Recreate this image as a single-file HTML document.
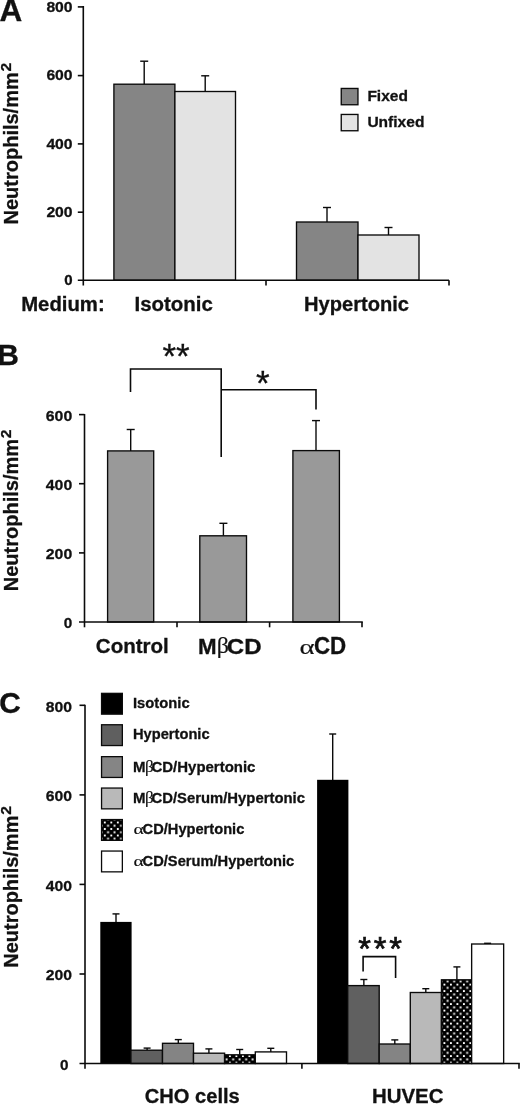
<!DOCTYPE html>
<html><head><meta charset="utf-8"><title>Figure</title>
<style>
html,body{margin:0;padding:0;background:#fff;}
svg{display:block;}
text{font-family:"Liberation Sans",Arial,Helvetica,sans-serif;font-weight:bold;fill:#111;stroke:#111;stroke-width:0.3px;}
.sy{font-family:"Liberation Serif","DejaVu Serif",serif;font-weight:normal;stroke-width:0.15px;}
.rg{font-weight:normal;stroke-width:0.3px;}
</style></head><body>
<svg width="520" height="1105" viewBox="0 0 520 1105">
<defs>
<pattern id="dots" x="444.4" y="984.6" width="6.5" height="6.5" patternUnits="userSpaceOnUse">
<rect x="-1" y="-1" width="9" height="9" fill="#000"/>
<g fill="#fff"><rect x="-0.95" y="-0.95" width="1.9" height="1.9"/><rect x="5.55" y="-0.95" width="1.9" height="1.9"/><rect x="-0.95" y="5.55" width="1.9" height="1.9"/><rect x="5.55" y="5.55" width="1.9" height="1.9"/><rect x="2.3" y="2.3" width="1.9" height="1.9"/></g>
</pattern>
<pattern id="dots2" x="104.8" y="822.5" width="6.5" height="6.5" patternUnits="userSpaceOnUse">
<rect x="-1" y="-1" width="9" height="9" fill="#000"/>
<g fill="#fff"><rect x="-0.95" y="-0.95" width="1.9" height="1.9"/><rect x="5.55" y="-0.95" width="1.9" height="1.9"/><rect x="-0.95" y="5.55" width="1.9" height="1.9"/><rect x="5.55" y="5.55" width="1.9" height="1.9"/><rect x="2.3" y="2.3" width="1.9" height="1.9"/></g>
</pattern>
</defs>
<rect width="520" height="1105" fill="#fff"/>
<text x="-0.4" y="20.8" font-size="31.5" text-anchor="start" stroke-width="0.3">A</text>
<line x1="144.2" y1="61.2" x2="144.2" y2="84.2" stroke="#0a0a0a" stroke-width="1.4"/>
<line x1="140.2" y1="61.2" x2="148.2" y2="61.2" stroke="#0a0a0a" stroke-width="1.4"/>
<rect x="113.90" y="84.20" width="61.00" height="196.00" fill="#858585" stroke="#0a0a0a" stroke-width="1.35"/>
<line x1="205.2" y1="75.8" x2="205.2" y2="91.5" stroke="#0a0a0a" stroke-width="1.4"/>
<line x1="201.2" y1="75.8" x2="209.2" y2="75.8" stroke="#0a0a0a" stroke-width="1.4"/>
<rect x="174.90" y="91.50" width="60.60" height="188.70" fill="#e3e3e3" stroke="#0a0a0a" stroke-width="1.35"/>
<line x1="327" y1="207.5" x2="327" y2="222" stroke="#0a0a0a" stroke-width="1.4"/>
<line x1="323.0" y1="207.5" x2="331.0" y2="207.5" stroke="#0a0a0a" stroke-width="1.4"/>
<rect x="296.50" y="222.00" width="61.50" height="58.20" fill="#858585" stroke="#0a0a0a" stroke-width="1.35"/>
<line x1="388.5" y1="227.5" x2="388.5" y2="235" stroke="#0a0a0a" stroke-width="1.4"/>
<line x1="384.5" y1="227.5" x2="392.5" y2="227.5" stroke="#0a0a0a" stroke-width="1.4"/>
<rect x="358.00" y="235.00" width="61.00" height="45.20" fill="#e3e3e3" stroke="#0a0a0a" stroke-width="1.35"/>
<line x1="83.3" y1="6.1000000000000005" x2="83.3" y2="285.5" stroke="#0a0a0a" stroke-width="1.6"/>
<line x1="77.8" y1="280.2" x2="449" y2="280.2" stroke="#0a0a0a" stroke-width="1.6"/>
<line x1="77.8" y1="6.9" x2="83.3" y2="6.9" stroke="#0a0a0a" stroke-width="1.6"/>
<line x1="77.8" y1="75.6" x2="83.3" y2="75.6" stroke="#0a0a0a" stroke-width="1.6"/>
<line x1="77.8" y1="143.9" x2="83.3" y2="143.9" stroke="#0a0a0a" stroke-width="1.6"/>
<line x1="77.8" y1="212.2" x2="83.3" y2="212.2" stroke="#0a0a0a" stroke-width="1.6"/>
<line x1="266" y1="280.2" x2="266" y2="285.5" stroke="#0a0a0a" stroke-width="1.6"/>
<line x1="449" y1="280.2" x2="449" y2="285.5" stroke="#0a0a0a" stroke-width="1.6"/>
<text x="72.6" y="11.9" font-size="15" text-anchor="end" stroke-width="0" textLength="26.2" lengthAdjust="spacingAndGlyphs">800</text>
<text x="72.6" y="80.30000000000001" font-size="15" text-anchor="end" stroke-width="0" textLength="26.2" lengthAdjust="spacingAndGlyphs">600</text>
<text x="72.6" y="148.70000000000002" font-size="15" text-anchor="end" stroke-width="0" textLength="26.2" lengthAdjust="spacingAndGlyphs">400</text>
<text x="72.6" y="217.0" font-size="15" text-anchor="end" stroke-width="0" textLength="26.2" lengthAdjust="spacingAndGlyphs">200</text>
<text x="72.6" y="285.4" font-size="15" text-anchor="end" stroke-width="0">0</text>
<rect x="341.25" y="88.45" width="16.70" height="16.30" fill="#858585" stroke="#0a0a0a" stroke-width="1.35"/>
<rect x="341.25" y="114.45" width="16.70" height="16.30" fill="#e3e3e3" stroke="#0a0a0a" stroke-width="1.35"/>
<text x="367.4" y="101.2" font-size="15" text-anchor="start" stroke-width="0" textLength="40.5" lengthAdjust="spacingAndGlyphs">Fixed</text>
<text x="367.4" y="127" font-size="15" text-anchor="start" stroke-width="0" textLength="57" lengthAdjust="spacingAndGlyphs">Unfixed</text>
<text x="21.2" y="310.6" font-size="20" text-anchor="start" stroke-width="0.3" textLength="83.5" lengthAdjust="spacingAndGlyphs">Medium:</text>
<text x="134.5" y="310.6" font-size="20" text-anchor="start" stroke-width="0.3" textLength="78.3" lengthAdjust="spacingAndGlyphs">Isotonic</text>
<text x="304" y="310.5" font-size="20" text-anchor="start" stroke-width="0.3" textLength="105" lengthAdjust="spacingAndGlyphs">Hypertonic</text>
<text transform="translate(17.9,224.5) rotate(-90)" font-size="20">Neutrophils/mm<tspan font-size="15.5" dy="-6.5" dx="0.8">2</tspan></text>
<text x="-2.7" y="365.4" font-size="30" text-anchor="start" stroke-width="0.3">B</text>
<line x1="130.7" y1="429.5" x2="130.7" y2="450.9" stroke="#0a0a0a" stroke-width="1.4"/>
<line x1="126.69999999999999" y1="429.5" x2="134.7" y2="429.5" stroke="#0a0a0a" stroke-width="1.4"/>
<rect x="107.60" y="450.90" width="46.10" height="171.10" fill="#999" stroke="#0a0a0a" stroke-width="1.35"/>
<line x1="223.4" y1="523.3" x2="223.4" y2="535.8" stroke="#0a0a0a" stroke-width="1.4"/>
<line x1="219.4" y1="523.3" x2="227.4" y2="523.3" stroke="#0a0a0a" stroke-width="1.4"/>
<rect x="199.80" y="535.80" width="46.70" height="86.20" fill="#999" stroke="#0a0a0a" stroke-width="1.35"/>
<line x1="316" y1="420.6" x2="316" y2="450.6" stroke="#0a0a0a" stroke-width="1.4"/>
<line x1="312.0" y1="420.6" x2="320.0" y2="420.6" stroke="#0a0a0a" stroke-width="1.4"/>
<rect x="292.90" y="450.60" width="46.50" height="171.40" fill="#999" stroke="#0a0a0a" stroke-width="1.35"/>
<line x1="84.5" y1="414" x2="84.5" y2="627.3" stroke="#0a0a0a" stroke-width="1.6"/>
<line x1="79.0" y1="622" x2="362.8" y2="622" stroke="#0a0a0a" stroke-width="1.6"/>
<line x1="79.0" y1="414.6" x2="84.5" y2="414.6" stroke="#0a0a0a" stroke-width="1.6"/>
<line x1="79.0" y1="483.7" x2="84.5" y2="483.7" stroke="#0a0a0a" stroke-width="1.6"/>
<line x1="79.0" y1="552.9" x2="84.5" y2="552.9" stroke="#0a0a0a" stroke-width="1.6"/>
<line x1="177" y1="622" x2="177" y2="627.3" stroke="#0a0a0a" stroke-width="1.6"/>
<line x1="269.6" y1="622" x2="269.6" y2="627.3" stroke="#0a0a0a" stroke-width="1.6"/>
<line x1="362" y1="622" x2="362" y2="627.3" stroke="#0a0a0a" stroke-width="1.6"/>
<text x="72.2" y="420.5" font-size="15.3" text-anchor="end" stroke-width="0" textLength="26.4" lengthAdjust="spacingAndGlyphs">600</text>
<text x="72.2" y="489.59999999999997" font-size="15.3" text-anchor="end" stroke-width="0" textLength="26.4" lengthAdjust="spacingAndGlyphs">400</text>
<text x="72.2" y="558.8" font-size="15.3" text-anchor="end" stroke-width="0" textLength="26.4" lengthAdjust="spacingAndGlyphs">200</text>
<text x="72.2" y="627.9" font-size="15.3" text-anchor="end" stroke-width="0">0</text>
<polyline points="130.5,392 130.5,369 221.2,369 221.2,457" fill="none" stroke="#0a0a0a" stroke-width="1.6"/>
<polyline points="221.2,389.7 316,389.7 316,409.5" fill="none" stroke="#0a0a0a" stroke-width="1.6"/>
<text x="176" y="368.4" font-size="35" text-anchor="middle" class="rg">**</text>
<text x="262.9" y="395" font-size="35" text-anchor="middle" class="rg">*</text>
<text x="95.8" y="653.3" font-size="20" text-anchor="start" stroke-width="0.3" textLength="73" lengthAdjust="spacingAndGlyphs">Control</text>
<text x="198.0" y="653.6" font-size="22.3" text-anchor="start" stroke-width="0.3" textLength="18.6" lengthAdjust="spacingAndGlyphs">M</text>
<text class="sy" transform="translate(216.8,653.4) scale(1.14,1.08)" font-size="21">&#946;</text>
<text x="226.8" y="653.6" font-size="22.3" text-anchor="start" stroke-width="0.3" textLength="34.8" lengthAdjust="spacingAndGlyphs">CD</text>
<text class="sy" transform="translate(299.4,654.0) scale(1.37,1.02)" font-size="21">&#945;</text>
<text x="313.9" y="653.9" font-size="23" text-anchor="start" stroke-width="0.3" textLength="32.3" lengthAdjust="spacingAndGlyphs">CD</text>
<text transform="translate(17.9,591.2) rotate(-90)" font-size="20">Neutrophils/mm<tspan font-size="15.5" dy="-6.5" dx="0.8">2</tspan></text>
<text x="-0.8" y="712.9" font-size="29.8" text-anchor="start" stroke-width="0.3">C</text>
<line x1="116" y1="913.9" x2="116" y2="922.2" stroke="#0a0a0a" stroke-width="1.4"/>
<line x1="112.5" y1="913.9" x2="119.5" y2="913.9" stroke="#0a0a0a" stroke-width="1.4"/>
<rect x="100.30" y="921.90" width="31.30" height="141.60" fill="#000"/>
<line x1="147.1" y1="1048.1" x2="147.1" y2="1050.2" stroke="#0a0a0a" stroke-width="1.4"/>
<line x1="143.6" y1="1048.1" x2="150.6" y2="1048.1" stroke="#0a0a0a" stroke-width="1.4"/>
<rect x="130.92" y="1050.20" width="31.58" height="13.30" fill="#606060" stroke="#0a0a0a" stroke-width="1.35"/>
<line x1="178.3" y1="1039.6" x2="178.3" y2="1043.3" stroke="#0a0a0a" stroke-width="1.4"/>
<line x1="174.8" y1="1039.6" x2="181.8" y2="1039.6" stroke="#0a0a0a" stroke-width="1.4"/>
<rect x="162.50" y="1043.30" width="31.00" height="20.20" fill="#848484" stroke="#0a0a0a" stroke-width="1.35"/>
<line x1="208.9" y1="1048.9" x2="208.9" y2="1053.2" stroke="#0a0a0a" stroke-width="1.4"/>
<line x1="205.4" y1="1048.9" x2="212.4" y2="1048.9" stroke="#0a0a0a" stroke-width="1.4"/>
<rect x="193.50" y="1053.20" width="31.10" height="10.30" fill="#b9b9b9" stroke="#0a0a0a" stroke-width="1.35"/>
<line x1="239.7" y1="1049.5" x2="239.7" y2="1054.8" stroke="#0a0a0a" stroke-width="1.4"/>
<line x1="236.2" y1="1049.5" x2="243.2" y2="1049.5" stroke="#0a0a0a" stroke-width="1.4"/>
<rect x="224.60" y="1054.80" width="30.70" height="8.70" fill="url(#dots)" stroke="#0a0a0a" stroke-width="1.35"/>
<line x1="270.8" y1="1048.3" x2="270.8" y2="1051.9" stroke="#0a0a0a" stroke-width="1.4"/>
<line x1="267.3" y1="1048.3" x2="274.3" y2="1048.3" stroke="#0a0a0a" stroke-width="1.4"/>
<rect x="255.30" y="1051.90" width="31.20" height="11.60" fill="#fff" stroke="#0a0a0a" stroke-width="1.35"/>
<line x1="332.7" y1="734.0" x2="332.7" y2="780.1" stroke="#0a0a0a" stroke-width="1.4"/>
<line x1="329.2" y1="734.0" x2="336.2" y2="734.0" stroke="#0a0a0a" stroke-width="1.4"/>
<rect x="317.10" y="779.80" width="31.30" height="283.70" fill="#000"/>
<line x1="363.85" y1="979.5" x2="363.85" y2="985.6" stroke="#0a0a0a" stroke-width="1.4"/>
<line x1="360.35" y1="979.5" x2="367.35" y2="979.5" stroke="#0a0a0a" stroke-width="1.4"/>
<rect x="347.72" y="985.60" width="31.48" height="77.90" fill="#606060" stroke="#0a0a0a" stroke-width="1.35"/>
<line x1="394.8" y1="1039.9" x2="394.8" y2="1044" stroke="#0a0a0a" stroke-width="1.4"/>
<line x1="391.3" y1="1039.9" x2="398.3" y2="1039.9" stroke="#0a0a0a" stroke-width="1.4"/>
<rect x="379.20" y="1044.00" width="31.10" height="19.50" fill="#848484" stroke="#0a0a0a" stroke-width="1.35"/>
<line x1="425.8" y1="988.7" x2="425.8" y2="992.5" stroke="#0a0a0a" stroke-width="1.4"/>
<line x1="422.3" y1="988.7" x2="429.3" y2="988.7" stroke="#0a0a0a" stroke-width="1.4"/>
<rect x="410.30" y="992.50" width="31.15" height="71.00" fill="#b9b9b9" stroke="#0a0a0a" stroke-width="1.35"/>
<line x1="456.9" y1="966.9" x2="456.9" y2="979.8" stroke="#0a0a0a" stroke-width="1.4"/>
<line x1="453.4" y1="966.9" x2="460.4" y2="966.9" stroke="#0a0a0a" stroke-width="1.4"/>
<rect x="441.45" y="979.80" width="30.20" height="83.70" fill="url(#dots)" stroke="#0a0a0a" stroke-width="1.35"/>
<line x1="487.6" y1="943.3" x2="487.6" y2="944" stroke="#0a0a0a" stroke-width="1.4"/>
<line x1="484.1" y1="943.3" x2="491.1" y2="943.3" stroke="#0a0a0a" stroke-width="1.4"/>
<rect x="471.65" y="944.00" width="32.00" height="119.50" fill="#fff" stroke="#0a0a0a" stroke-width="1.35"/>
<line x1="85.0" y1="704.7" x2="85.0" y2="1068.8" stroke="#0a0a0a" stroke-width="1.6"/>
<line x1="79.5" y1="1063.5" x2="519.8" y2="1063.5" stroke="#0a0a0a" stroke-width="1.6"/>
<line x1="79.5" y1="705.3" x2="85.0" y2="705.3" stroke="#0a0a0a" stroke-width="1.6"/>
<line x1="79.5" y1="794.9" x2="85.0" y2="794.9" stroke="#0a0a0a" stroke-width="1.6"/>
<line x1="79.5" y1="884.4" x2="85.0" y2="884.4" stroke="#0a0a0a" stroke-width="1.6"/>
<line x1="79.5" y1="974" x2="85.0" y2="974" stroke="#0a0a0a" stroke-width="1.6"/>
<line x1="301.9" y1="1063.5" x2="301.9" y2="1068.8" stroke="#0a0a0a" stroke-width="1.6"/>
<line x1="519" y1="1063.5" x2="519" y2="1068.8" stroke="#0a0a0a" stroke-width="1.6"/>
<text x="72.0" y="711.5" font-size="15.3" text-anchor="end" stroke-width="0" textLength="26.2" lengthAdjust="spacingAndGlyphs">800</text>
<text x="72.0" y="801.1" font-size="15.3" text-anchor="end" stroke-width="0" textLength="26.2" lengthAdjust="spacingAndGlyphs">600</text>
<text x="72.0" y="890.6" font-size="15.3" text-anchor="end" stroke-width="0" textLength="26.2" lengthAdjust="spacingAndGlyphs">400</text>
<text x="72.0" y="980.2" font-size="15.3" text-anchor="end" stroke-width="0" textLength="26.2" lengthAdjust="spacingAndGlyphs">200</text>
<text x="68.6" y="1069.7" font-size="15.3" text-anchor="end" stroke-width="0">0</text>
<rect x="101.55" y="693.35" width="20.80" height="20.80" fill="#000" stroke="#0a0a0a" stroke-width="1.3"/>
<text x="133.0" y="707.8" font-size="15" text-anchor="start" stroke-width="0" textLength="56.6" lengthAdjust="spacingAndGlyphs">Isotonic</text>
<rect x="101.55" y="724.75" width="20.80" height="20.80" fill="#5f5f5f" stroke="#0a0a0a" stroke-width="1.3"/>
<text x="133.0" y="739.2" font-size="15" text-anchor="start" stroke-width="0" textLength="76.6" lengthAdjust="spacingAndGlyphs">Hypertonic</text>
<rect x="101.55" y="756.65" width="20.80" height="20.80" fill="#858585" stroke="#0a0a0a" stroke-width="1.3"/>
<text x="133.0" y="771.5" font-size="15" text-anchor="start" stroke-width="0">M</text>
<text class="sy" transform="translate(144.9,771.5) scale(1.1,1.05)" font-size="15.5">&#946;</text>
<text x="151.5" y="771.5" font-size="15" text-anchor="start" stroke-width="0" textLength="103.9" lengthAdjust="spacingAndGlyphs">CD/Hypertonic</text>
<rect x="101.55" y="788.05" width="20.80" height="20.80" fill="#b9b9b9" stroke="#0a0a0a" stroke-width="1.3"/>
<text x="133.0" y="802.9" font-size="15" text-anchor="start" stroke-width="0">M</text>
<text class="sy" transform="translate(144.9,802.9) scale(1.1,1.05)" font-size="15.5">&#946;</text>
<text x="151.5" y="802.9" font-size="15" text-anchor="start" stroke-width="0" textLength="153.4" lengthAdjust="spacingAndGlyphs">CD/Serum/Hypertonic</text>
<rect x="101.55" y="819.55" width="20.80" height="20.80" fill="url(#dots2)" stroke="#0a0a0a" stroke-width="1.3"/>
<text class="sy" transform="translate(133.4,834.4) scale(1.32,1.02)" font-size="15">&#945;</text>
<text x="142.6" y="834.4" font-size="15" text-anchor="start" stroke-width="0" textLength="101.7" lengthAdjust="spacingAndGlyphs">CD/Hypertonic</text>
<rect x="101.55" y="851.05" width="20.80" height="20.80" fill="#fff" stroke="#0a0a0a" stroke-width="1.3"/>
<text class="sy" transform="translate(133.4,865.9) scale(1.32,1.02)" font-size="15">&#945;</text>
<text x="142.6" y="865.9" font-size="15" text-anchor="start" stroke-width="0" textLength="151.6" lengthAdjust="spacingAndGlyphs">CD/Serum/Hypertonic</text>
<polyline points="363.1,971.4 363.1,956.6 395.6,956.6 395.6,978.1" fill="none" stroke="#0a0a0a" stroke-width="1.6"/>
<text x="381.6" y="959.6" font-size="32.5" text-anchor="middle" class="rg" letter-spacing="2.9" style="stroke-width:0.7px">***</text>
<text x="144.8" y="1103.1" font-size="20" text-anchor="start" stroke-width="0.3" textLength="95" lengthAdjust="spacingAndGlyphs">CHO cells</text>
<text x="372" y="1103.1" font-size="20" text-anchor="start" stroke-width="0.3" textLength="71.5" lengthAdjust="spacingAndGlyphs">HUVEC</text>
<text transform="translate(17.9,967.8) rotate(-90)" font-size="20">Neutrophils/mm<tspan font-size="15.5" dy="-6.5" dx="0.8">2</tspan></text>
</svg>
</body></html>
